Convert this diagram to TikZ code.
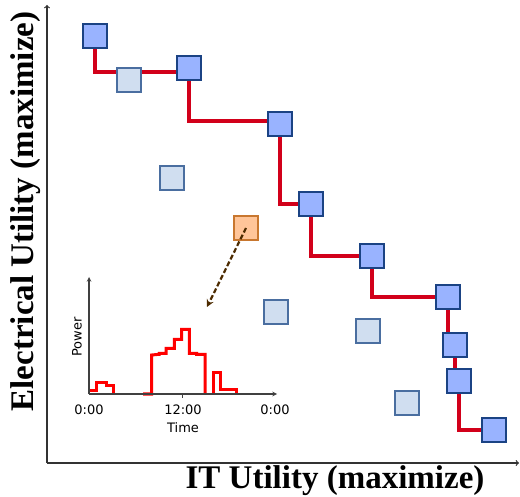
\documentclass[tikz,border=0pt]{standalone}
\usepackage{fontspec}
\setmainfont{Liberation Serif}
\newfontfamily\plotfont{DejaVu Sans}
\usetikzlibrary{arrows,backgrounds}
\definecolor{frontfill}{HTML}{99B3FF}
\definecolor{frontdraw}{HTML}{1B4384}
\definecolor{otherfill}{HTML}{D0DEF0}
\definecolor{otherdraw}{HTML}{4A6EA0}
\definecolor{pickfill}{HTML}{FFC599}
\definecolor{pickdraw}{HTML}{C8772F}
\definecolor{frontred}{HTML}{D2001A}
\definecolor{zoombrown}{HTML}{4D2B00}
\tikzset{
  front/.style={draw=frontdraw,fill=frontfill,line width=1.2pt,minimum size=24pt,inner sep=0pt},
  other/.style={draw=otherdraw,fill=otherfill,line width=1.2pt,minimum size=24pt,inner sep=0pt},
  picked/.style={draw=pickdraw,fill=pickfill,line width=1.2pt,minimum size=24pt,inner sep=0pt},
  frontline/.style={draw=frontred,line width=4.6pt},
  mainaxis/.style={draw=black!80,line width=1.2pt,->},
  insetaxis/.style={draw=black!75,line width=1.1pt,-stealth},
  axistitle/.style={font=\bfseries\fontsize{33}{38}\selectfont},
  insettext/.style={font=\plotfont\fontsize{13}{15}\selectfont}
}
\begin{document}
\begin{tikzpicture}[x=1pt,y=-1pt]
\useasboundingbox (0,0) rectangle (520,497);
\draw[mainaxis](47,463)--(47,5); %electrical utility
\draw[mainaxis](47,463)--(519,463); %IT utility
\node[axistitle,rotate=90,anchor=base] (ytitle) at (33,211.5) {Electrical Utility (maximize)};
\node[axistitle,anchor=base] (xtitle) at (335,488) {IT Utility (maximize)};
%pareto front
\node[front] (s1) at (95,36) {};
\node[front] (s2) at (189,68) {};
\node[front] (s3) at (280,124) {};
\node[front] (s4) at (311,204) {};
\node[front] (s5) at (372,256) {};
\node[front] (s6) at (448,297) {};
\node[front] (s7) at (455,345) {};
\node[front] (s8) at (459,381) {};
\node[front] (s9) at (494,430) {};
%dominated schedules
\node[other] (d1) at (129,80) {};
\node[other] (d2) at (172,178) {};
\node[other] (d3) at (276,312) {};
\node[other] (d4) at (368,331) {};
\node[other] (d5) at (407,403) {};
\node[picked] (pick) at (246,228) {};
\begin{scope}[on background layer]
\draw[frontline](s1.center)--++(0,36)-|(s2.center)--++(0,53)-|(s3.center)|-(s4.center)
|-(s5.center)|-(s6.center)|-(s7.center)|-(s8.center)|-(s9.center);
\end{scope}
\coordinate (tip) at (207,307);
\draw[zoombrown,line width=2.2pt,dash pattern=on 5pt off 2.5pt,-stealth](pick.center)--(tip); %to the power plot
%power plot
\draw[red,line width=3pt,line join=miter] plot coordinates {(90,390.7)(96.7,390.7)(96.7,383)(106,383)
(106,386)(113,386)(113,394)}; %night load
\draw[red,line width=3pt] plot coordinates {(143,394)(151.7,394)(151.7,355)(159.3,354.3)(159.3,353.3)
(166,353.3)(166,348.3)(174.3,348.3)(174.3,339.3)(181.7,339.3)(181.7,329.3)(189.3,329.3)(189.3,353.3)
(196.7,353.3)(196.7,354.3)(205,354.3)(205,394)}; %day load
\draw[red,line width=3pt] plot coordinates {(213.3,394)(213.3,372.3)(220.7,372.3)(220.7,390)(236.7,390)
(236.7,394)}; %evening load
\draw[insetaxis](89,394)--(89,277);
\draw[insetaxis](89,394)--(277,394);
\draw[black!75,line width=1pt](182,394)--(182,398);
\node[insettext] (t0) at (89,410) {0:00};
\node[insettext] (t12) at (183,410) {12:00};
\node[insettext] (t24) at (275,410) {0:00};
\node[insettext] (time) at (183,428) {Time};
\node[insettext,rotate=90] (power) at (77,337) {Power};
\end{tikzpicture}
\end{document}
